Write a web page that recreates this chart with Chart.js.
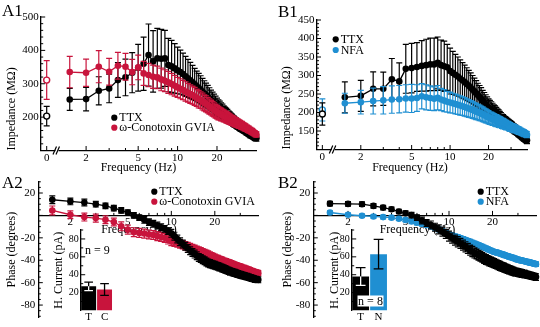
<!DOCTYPE html>
<html>
<head>
<meta charset="utf-8">
<script src="https://cdn.jsdelivr.net/npm/chart.js@4.4.1/dist/chart.umd.min.js"></script>
<style>
  html, body { margin: 0; padding: 0; background: #fff; }
  #fig { position: relative; width: 540px; height: 327px; overflow: hidden;
         font-family: "Liberation Serif", "Times New Roman", serif; }
  #fig canvas { position: absolute; }
  .tag { position: absolute; font-size: 17px; line-height: 1; color: #000; }
</style>
</head>
<body>
<div id="fig">
  <canvas id="cA1" width="270" height="176" style="left:0;top:0"></canvas>
  <canvas id="cB1" width="270" height="176" style="left:270px;top:0"></canvas>
  <canvas id="cA2" width="270" height="157" style="left:0;top:170px"></canvas>
  <canvas id="cB2" width="270" height="157" style="left:270px;top:170px"></canvas>
  <canvas id="cA2i" width="80" height="105" style="left:40px;top:222px"></canvas>
  <canvas id="cB2i" width="80" height="105" style="left:312px;top:222px"></canvas>
  <div class="tag" style="left:2px;top:2px">A1</div>
  <div class="tag" style="left:278px;top:3px">B1</div>
  <div class="tag" style="left:2px;top:174px">A2</div>
  <div class="tag" style="left:278px;top:174px">B2</div>
</div>
<script>
// ---------------- data ----------------
// stimulation frequencies (Hz)
const freq = [1.5,2,2.5,3,3.5,4,4.5,5,5.5,6,6.5,7,7.5,8,8.5,9,9.5,10,
  10.5,11,11.5,12,12.5,13,13.5,14,14.5,15,15.5,16,16.5,17,17.5,18,18.5,19,19.5,20,
  20.5,21,21.5,22,22.5,23,23.5,24,24.5,25,25.5,26,26.5,27,27.5,28,28.5,29,29.5,30,
  30.5,31,31.5,32,32.5,33,33.5,34,34.5,35,35.5,36,36.5,37,37.5,38,38.5,39,39.5,40];

// A1: impedance (MOhm), TTX vs omega-conotoxin GVIA
const impTTX_A = [253,254,279,286,311,319,333,348,360,386,367,376,375,376,356,352,346,340,
  335,329,322,316,310,304,298,292,287,282,276,271,266,261,256,251,246,241,236,231,
  227,224,220,217,213,210,207,204,201,198,195,192,189,187,184,182,179,177,174,172,
  170,168,166,164,162,160,158,156,154,152,150,148,147,145,144,142,141,139,138,137];
const impTTX_A_sem = [33,35,42,43,52,55,60,70,80,93,92,90,88,84,80,78,74,70,
  66,63,60,57,54,51,48,46,44,42,40,38,36,34,32,30,29,28,27,26,
  25,24,23,22,21,20,20,19,18,18,17,17,16,16,15,15,14,14,13,13,
  13,12,12,12,11,11,11,11,10,10,10,10,10,9,9,9,9,9,9,9];
const impCono = [335,333,351,336,354,351,335,349,331,326,321,319,313,309,304,299,294,289,
  285,281,277,273,269,266,262,258,254,251,247,243,240,236,232,229,225,222,218,215,
  212,210,208,206,204,202,200,198,196,194,192,190,189,187,185,184,182,181,179,178,
  176,175,173,172,170,169,167,166,164,163,161,160,158,157,155,154,152,151,149,148];
const impCono_sem = [47,41,48,40,40,40,38,37,36,35,35,34,34,33,33,32,31,30,
  30,29,29,28,28,27,27,26,26,25,25,24,24,23,23,22,22,21,21,20,
  20,19,19,18,18,17,17,17,16,16,15,15,15,14,14,14,13,13,13,12,
  12,12,11,11,11,11,10,10,10,10,9,9,9,9,9,8,8,8,8,8];
const dcTTX_A = 203, dcTTX_A_sem = 29;
const dcCono = 311, dcCono_sem = 58;

// B1: impedance (MOhm), TTX vs NFA
const impTTX_B = [241,245,264,264,290,284,318,320,323,326,328,330,330,334,328,325,322,312,
  307,302,297,292,287,282,277,272,267,262,257,252,247,242,237,232,227,222,217,213,
  210,207,204,201,198,195,192,189,186,183,180,178,176,174,172,170,168,166,165,163,
  161,159,157,155,153,151,149,147,145,143,141,139,137,135,133,131,130,128,127,125];
const impTTX_B_sem = [42,42,46,45,56,50,66,67,66,68,70,71,71,70,68,68,62,62,
  58,55,53,50,48,46,44,42,40,38,36,34,32,31,30,28,27,26,25,24,
  23,22,21,20,20,19,18,18,17,17,16,16,15,15,15,14,14,14,13,13,
  13,12,12,12,12,11,11,11,11,10,10,10,10,10,9,9,9,9,9,9];
const impNFA = [225,228,231,233,235,236,238,238,239,244,241,239,237,240,235,232,229,227,
  225,223,221,219,217,215,213,211,209,207,205,203,201,199,197,195,193,191,189,187,
  185,184,182,181,179,178,177,175,174,173,171,170,169,167,166,165,164,162,161,160,
  159,158,157,156,155,154,153,152,151,150,149,148,147,146,145,144,143,142,141,140];
const impNFA_sem = [27,32,35,37,37,37,37,38,36,34,34,33,32,33,30,30,28,28,
  27,27,26,26,25,25,24,24,23,23,22,22,21,21,20,20,19,19,18,18,
  17,17,17,16,16,16,15,15,15,14,14,14,13,13,13,12,12,12,12,11,
  11,11,11,11,10,10,10,10,10,10,9,9,9,9,9,9,8,8,8,8];
const dcTTX_B = 196, dcTTX_B_sem = 30;
const dcNFA = 207, dcNFA_sem = 30;

// A2: phase (degrees), TTX vs omega-conotoxin GVIA
const phTTX_A = [14,12.5,11.5,10,8.5,6.5,4.5,2.5,0,-2,-4,-6,-7.5,-9,-10.5,-12,-14,-16,
  -18.5,-21,-23.5,-25.5,-27.5,-29.5,-31.5,-33,-34.5,-36,-37.5,-38.5,-39.5,-40.5,-41.5,-42.5,-43,-43.5,-44,-44.5,
  -45,-45.5,-46,-46.5,-47,-47.5,-48,-48.5,-49,-49.5,-50,-50.3,-50.6,-51,-51.3,-51.6,-52,-52.3,-52.6,-53,
  -53.2,-53.5,-53.7,-54,-54.2,-54.5,-54.7,-55,-55.2,-55.5,-55.7,-56,-56.2,-56.5,-56.7,-57,-57.1,-57.2,-57.4,-57.5];
const phTTX_A_sem = [3.5,3,3,2.5,2.5,2.5,2.5,2.5,2.5,2.5,3,3,3,3,3,3,3,3.5,
  3.5,3.5,3.5,3.5,3.5,3.5,3.5,3.5,3.5,3.5,3.5,3.5,3.5,3.5,3.5,3.5,3.5,3.5,3.5,3.5,
  3.4,3.4,3.4,3.3,3.3,3.3,3.3,3.2,3.2,3.2,3.2,3.1,3.1,3.1,3.1,3,3,3,3,3,
  3,3,3,2.9,2.9,2.9,2.9,2.8,2.8,2.8,2.8,2.8,2.7,2.7,2.7,2.7,2.7,2.6,2.6,2.6];
const phCono = [4.4,0.6,-1.5,-2.4,-3.8,-5.9,-9.7,-12.7,-15,-15.6,-16.2,-17,-17.5,-18.5,-19.2,-20,-21.5,-23,
  -23.8,-24.6,-25.4,-26.2,-27,-27.8,-28.6,-29.4,-30.1,-30.8,-31.5,-32.2,-32.9,-33.6,-34.3,-35,-35.7,-36.4,-37.1,-37.8,
  -38.3,-38.8,-39.3,-39.8,-40.3,-40.8,-41.2,-41.6,-42,-42.4,-42.8,-43.2,-43.6,-44,-44.4,-44.8,-45.1,-45.4,-45.7,-46,
  -46.3,-46.6,-46.9,-47.2,-47.5,-47.8,-48.1,-48.4,-48.7,-49,-49.3,-49.6,-49.9,-50.2,-50.4,-50.6,-50.8,-51,-51.2,-51.5];
const phCono_sem = [4,3.5,3.5,3.5,3.5,3.5,4,4,4,4,4,4,4,4,4,4,4,4,
  3.8,3.8,3.8,3.7,3.7,3.7,3.6,3.6,3.6,3.5,3.5,3.5,3.4,3.4,3.4,3.3,3.3,3.3,3.2,3.2,
  3.2,3.1,3.1,3.1,3,3,3,3,2.9,2.9,2.9,2.9,2.8,2.8,2.8,2.8,2.7,2.7,2.7,2.7,
  2.6,2.6,2.6,2.6,2.5,2.5,2.5,2.5,2.5,2.4,2.4,2.4,2.4,2.4,2.3,2.3,2.3,2.3,2.3,2.3];

// B2: phase (degrees), TTX vs NFA
const phTTX_B = [10.5,10.3,10,8.5,7,5.5,3.5,2,0.3,-2,-4.5,-6.8,-8.5,-10.5,-12.5,-14.5,-16.5,-18.5,
  -20.2,-22,-23.5,-25,-26.5,-28,-29.5,-31,-32.2,-33.5,-34.5,-35.5,-36.5,-37.5,-38.5,-39.3,-40,-40.8,-41.4,-42,
  -42.6,-43.2,-43.8,-44.4,-45,-45.5,-46,-46.5,-47,-47.5,-48,-48.4,-48.8,-49.2,-49.6,-50,-50.3,-50.6,-50.8,-51,
  -51.2,-51.4,-51.6,-51.8,-52,-52.2,-52.4,-52.6,-52.8,-53,-53.2,-53.4,-53.6,-53.8,-54,-54.2,-54.4,-54.6,-54.8,-55];
const phTTX_B_sem = [2,2,2,2,2,2,2,2,2.5,2.5,3,3,3.5,3.5,4,4,4,4.5,
  4.5,4.5,4.5,4.5,4.5,4.5,4.5,4.5,4.5,4.5,4.4,4.4,4.4,4.3,4.3,4.3,4.2,4.2,4.2,4.1,
  4.1,4.1,4,4,4,3.9,3.9,3.9,3.8,3.8,3.8,3.7,3.7,3.7,3.6,3.6,3.6,3.5,3.5,3.5,
  3.5,3.4,3.4,3.4,3.3,3.3,3.3,3.2,3.2,3.2,3.1,3.1,3.1,3,3,3,3,2.9,2.9,2.9];
const phNFA = [2.6,0.6,-0.3,-0.9,-1.5,-2,-3,-4,-5.3,-6.5,-7.5,-8.5,-9.8,-11,-12.5,-14,-15.5,-17,
  -17.8,-18.6,-19.4,-20.2,-21,-21.8,-22.6,-23.4,-24.2,-25,-25.8,-26.5,-27.2,-27.9,-28.6,-29.3,-30,-30.7,-31.3,-32,
  -32.4,-32.8,-33.2,-33.6,-34,-34.4,-34.8,-35.2,-35.6,-36,-36.4,-36.8,-37.1,-37.4,-37.7,-38,-38.4,-38.8,-39.2,-39.5,
  -39.7,-39.9,-40.1,-40.3,-40.5,-40.7,-40.9,-41.1,-41.3,-41.5,-41.7,-41.9,-42.1,-42.3,-42.5,-42.7,-42.9,-43.1,-43.3,-43.5];
const phNFA_sem = [1.5,1.5,1.5,1.5,1.5,1.5,1.5,1.5,2,2,2,2,2,2,2,2,2,2,
  2,2,2,2,2,2,2,2,2,2,2,2,2,2,2,2,2,2,2,2,
  2,2,2,2,2,2,2,2,2,2,2,2,2,2,2,2,2,2,2,2,
  2,2,2,2,2,2,2,2,2,2,2,2,2,2,2,2,2,2,2,2];

// H-current insets (pA, mean and sem)
const hLabelsA = ['T', 'C'];
const hCurrentA = [27, 23.5];
const hCurrentA_sem = [4.8, 6.5];
const hLabelsB = ['T', 'N'];
const hCurrentB = [38, 63];
const hCurrentB_sem = [10, 16.5];
const nCellsA = 'n = 9';
const nCellsB = 'n = 8';

// tick values and labels
const freqTicksDC = [1, 2, 5, 10, 20];
const freqTickLabelsDC = ['0', '2', '5', '10', '20'];
const freqTicks = [2, 5, 10, 20];
const freqMinor = [3, 4, 6, 7, 8, 9, 30];
const impTicksA = [200, 300, 400, 500];
const impTicksB = [150, 200, 250, 300, 350, 400, 450];
const phaseTicks = [-80, -60, -40, -20, 20];
const currentTicks = [20, 40, 60, 80];

// the 0 Hz point sits left of the axis break, at log-axis position 1 (labelled "0")
const DC_POS = 1;

[impTTX_A, impTTX_A_sem, impCono, impCono_sem, impTTX_B, impTTX_B_sem, impNFA, impNFA_sem,
 phTTX_A, phTTX_A_sem, phCono, phCono_sem, phTTX_B, phTTX_B_sem, phNFA, phNFA_sem].forEach((a, i) => {
  if (a.length !== freq.length) throw new Error('series ' + i + ' has ' + a.length + ' values');
});

// ---------------- styling ----------------
const BLACK = '#000000', RED = '#c8143c', BLUE = '#1f8fd2';
const SERIF = '"Liberation Serif", "Times New Roman", serif';
Chart.defaults.font.family = SERIF;
Chart.defaults.font.size = 11;
Chart.defaults.color = '#000';

const range = (a, b, s) => { const r = []; for (let v = a; v <= b + 1e-9; v += s) r.push(+v.toFixed(3)); return r; };
const pts = (xs, ys) => xs.map((x, i) => ({x, y: ys[i]}));

function series(label, ys, sem, color, order) {
  return {label, data: pts(freq, ys), err: sem, borderColor: color, backgroundColor: color,
    pointBackgroundColor: color, pointBorderColor: color, pointBorderWidth: 0, pointRadius: 3.3,
    borderWidth: 1.3, tension: 0, clip: false, order};
}
function dcPoint(y, sem, color, order) {
  return {data: [{x: DC_POS, y}], err: [sem], showLine: false, borderColor: color,
    backgroundColor: '#fff', pointBackgroundColor: '#fff', pointBorderColor: color,
    pointBorderWidth: 1.4, pointRadius: 3, clip: false, order};
}

// vertical sem bars drawn under each series' markers
const errorBars = {
  id: 'errorBars',
  beforeDatasetDraw(chart, args) {
    const ds = chart.data.datasets[args.index];
    if (!ds.err || args.meta.type !== 'line') return;
    const ys = chart.scales.y, ctx = chart.ctx;
    ctx.save();
    ctx.strokeStyle = ds.borderColor; ctx.lineWidth = 1.2;
    ctx.beginPath();
    args.meta.data.forEach((el, i) => {
      const v = ds.data[i].y, e = ds.err[i];
      const t = ys.getPixelForValue(v + e), b = ys.getPixelForValue(v - e);
      ctx.moveTo(el.x, t); ctx.lineTo(el.x, b);
      ctx.moveTo(el.x - 3, t); ctx.lineTo(el.x + 3, t);
      ctx.moveTo(el.x - 3, b); ctx.lineTo(el.x + 3, b);
    });
    ctx.stroke();
    ctx.restore();
  }
};

// sem whiskers on the inset bars (white where they run inside a black bar)
const barErrors = {
  id: 'barErrors',
  afterDatasetsDraw(chart) {
    const ds = chart.data.datasets[0], meta = chart.getDatasetMeta(0);
    const ys = chart.scales.y, ctx = chart.ctx;
    ctx.save(); ctx.lineWidth = 1.3;
    meta.data.forEach((bar, i) => {
      const v = ds.data[i], e = ds.err[i];
      const t = ys.getPixelForValue(v + e), b = ys.getPixelForValue(v - e);
      const x = bar.x, h = bar.width * 0.29, dark = ds.backgroundColor[i] === BLACK;
      ctx.strokeStyle = '#000';
      ctx.beginPath();
      ctx.moveTo(x, t); ctx.lineTo(x, dark ? bar.y : b);
      ctx.moveTo(x - h, t); ctx.lineTo(x + h, t);
      if (!dark) { ctx.moveTo(x - h, b); ctx.lineTo(x + h, b); }
      ctx.stroke();
      if (dark) {
        ctx.strokeStyle = '#fff';
        ctx.beginPath();
        ctx.moveTo(x, bar.y); ctx.lineTo(x, b);
        ctx.moveTo(x - h, b); ctx.lineTo(x + h, b);
        ctx.stroke();
      }
    });
    ctx.restore();
  }
};

// inward tick marks, axis break, axis title, legend and notes
const decorCfg = {};
const decor = {
  id: 'decor',
  beforeDatasetsDraw(chart) {
    const cfg = decorCfg[chart.canvas.id]; if (!cfg) return;
    const ctx = chart.ctx, ca = chart.chartArea, xs = chart.scales.x, ys = chart.scales.y;
    ctx.save();
    ctx.fillStyle = '#000'; ctx.strokeStyle = '#000';
    if (cfg.xTitle) {
      ctx.font = '12px ' + SERIF; ctx.textAlign = 'center'; ctx.textBaseline = 'middle';
      ctx.fillText(cfg.xTitle.text, cfg.xTitle.x, cfg.xTitle.y);
    }
    const xBase = cfg.xAt === undefined ? ca.bottom : ys.getPixelForValue(cfg.xAt);
    ctx.lineWidth = 1;
    ctx.beginPath();
    (cfg.xMajor || []).forEach(v => { const p = xs.getPixelForValue(v); ctx.moveTo(p, xBase); ctx.lineTo(p, xBase - 4.5); });
    (cfg.xMinor || []).forEach(v => { const p = xs.getPixelForValue(v); ctx.moveTo(p, xBase); ctx.lineTo(p, xBase - 2.5); });
    (cfg.yMajor || []).forEach(v => { const p = ys.getPixelForValue(v); ctx.moveTo(ca.left, p); ctx.lineTo(ca.left + 4.5, p); });
    (cfg.yMinor || []).forEach(v => { const p = ys.getPixelForValue(v); ctx.moveTo(ca.left, p); ctx.lineTo(ca.left + 2.5, p); });
    ctx.stroke();
    if (cfg.breakAt) {
      const p = xs.getPixelForValue(cfg.breakAt), y = ca.bottom;
      ctx.fillStyle = '#fff'; ctx.fillRect(p - 2.5, y - 1.5, 3, 3);
      ctx.lineWidth = 1.2; ctx.beginPath();
      ctx.moveTo(p - 5, y + 4); ctx.lineTo(p - 1.5, y - 4);
      ctx.moveTo(p - 2, y + 4); ctx.lineTo(p + 1.5, y - 4);
      ctx.stroke();
    }
    ctx.restore();
  },
  afterDraw(chart) {
    const cfg = decorCfg[chart.canvas.id]; if (!cfg) return;
    const ctx = chart.ctx;
    ctx.save();
    if (cfg.legend) {
      const items = chart.data.datasets.filter(d => d.label);
      ctx.font = '12px ' + SERIF; ctx.textAlign = 'left'; ctx.textBaseline = 'middle';
      items.forEach((d, i) => {
        const y = cfg.legend.y + i * cfg.legend.dy;
        ctx.fillStyle = d.borderColor;
        ctx.beginPath(); ctx.arc(cfg.legend.x, y, 3.1, 0, Math.PI * 2); ctx.fill();
        ctx.fillStyle = '#000';
        ctx.fillText(d.label, cfg.legend.x + 5, y + 0.5);
      });
    }
    (cfg.notes || []).forEach(n => {
      ctx.font = '12px ' + SERIF; ctx.textBaseline = 'middle';
      if (n.box) {
        ctx.fillStyle = '#fff';
        ctx.fillRect(n.x - n.box[0] / 2, n.y - n.box[1] / 2, n.box[0], n.box[1]);
        ctx.textAlign = 'center';
      } else {
        ctx.textAlign = 'left';
      }
      ctx.fillStyle = '#000';
      ctx.fillText(n.text, n.x, n.y + 0.5);
    });
    ctx.restore();
  }
};

const noHover = {legend: {display: false}, tooltip: {enabled: false}};
const axisLine = {display: true, color: '#000', width: 1.3};
const noGrid = {display: false, drawTicks: false};

function impedancePanel(id, geo, yMin, yMax, yTicks, datasets, titleAlign) {
  new Chart(document.getElementById(id), {
    type: 'line',
    data: {datasets},
    options: {
      responsive: false, animation: false, devicePixelRatio: 1, events: [],
      layout: {padding: {left: 0, right: geo.padR, top: geo.padT, bottom: 0}},
      plugins: noHover,
      scales: {
        x: {
          type: 'logarithmic', min: 0.9, max: 40, position: 'bottom',
          grid: noGrid, border: axisLine,
          ticks: {padding: 1, maxRotation: 0, autoSkip: false, callback: (v, i) => freqTickLabelsDC[i]},
          afterBuildTicks: s => { s.ticks = freqTicksDC.map(v => ({value: v})); },
          afterFit: s => { s.height = geo.xH; }
        },
        y: {
          type: 'linear', min: yMin, max: yMax,
          grid: noGrid, border: axisLine,
          ticks: {padding: 2, callback: v => String(v)},
          afterBuildTicks: s => { s.ticks = yTicks.map(v => ({value: v})); },
          afterFit: s => { s.width = geo.yW; },
          title: {display: true, text: 'Impedance (MΩ)', align: titleAlign, font: {size: 12},
                  padding: {top: geo.titlePad, bottom: 0}}
        }
      }
    },
    plugins: [errorBars, decor]
  });
}

function phasePanel(id, geo, xMin, datasets) {
  new Chart(document.getElementById(id), {
    type: 'line',
    data: {datasets},
    options: {
      responsive: false, animation: false, devicePixelRatio: 1, events: [],
      layout: {padding: {left: 0, right: geo.padR, top: geo.padT, bottom: geo.padB}},
      plugins: noHover,
      scales: {
        x: {
          type: 'logarithmic', min: xMin, max: 40, position: {y: 0},
          grid: noGrid, border: axisLine,
          ticks: {padding: 0, maxRotation: 0, autoSkip: false, callback: v => String(v)},
          afterBuildTicks: s => { s.ticks = freqTicks.map(v => ({value: v})); }
        },
        y: {
          type: 'linear', min: -91, max: 30,
          grid: noGrid, border: axisLine,
          ticks: {padding: 3, callback: v => String(v)},
          afterBuildTicks: s => { s.ticks = phaseTicks.map(v => ({value: v})); },
          afterFit: s => { s.width = geo.yW; },
          title: {display: true, text: 'Phase (degrees)', font: {size: 12},
                  padding: {top: geo.titlePad, bottom: 0}}
        }
      }
    },
    plugins: [errorBars, decor]
  });
}

function insetPanel(id, geo, labels, values, sem, colors) {
  new Chart(document.getElementById(id), {
    type: 'bar',
    data: {labels, datasets: [{data: values, err: sem, backgroundColor: colors, borderWidth: 0,
                               barPercentage: 0.94, categoryPercentage: 1}]},
    options: {
      responsive: false, animation: false, devicePixelRatio: 1, events: [],
      layout: {padding: {left: 0, right: geo.padR, top: geo.padT, bottom: 0}},
      plugins: noHover,
      scales: {
        x: {grid: noGrid, border: {display: false}, ticks: {padding: 0, font: {size: 11}},
            afterFit: s => { s.height = geo.xH; }},
        y: {
          min: 0, max: 90, grid: noGrid, border: axisLine,
          ticks: {padding: 2, font: {size: 10}, callback: v => String(v)},
          afterBuildTicks: s => { s.ticks = currentTicks.map(v => ({value: v})); },
          afterFit: s => { s.width = geo.yW; },
          title: {display: true, text: 'H. Current (pA)', font: {size: 12},
                  padding: {top: geo.titlePad, bottom: 0}}
        }
      }
    },
    plugins: [barErrors, decor]
  });
}

// ---------------- layout of the four panels ----------------
const GEO = {
  A1: {padR: 13.6, padT: 17, yW: 40.7, xH: 25.5, titlePad: 4.5},
  B1: {padR: 13, padT: 20, yW: 46.5, xH: 26.5, titlePad: 10.1},
  A2: {padR: 11.7, padT: 11.8, padB: 8.5, yW: 38.3, titlePad: 4.5},
  B2: {padR: 3.5, padT: 11.8, padB: 8.5, yW: 43.3, titlePad: 11.1},
  A2i: {padR: 7.5, padT: 6.4, yW: 40.7, xH: 16.5, titlePad: 12.1},
  B2i: {padR: 4.5, padT: 6.4, yW: 39.7, xH: 16.5, titlePad: 15.8}
};

decorCfg.cA1 = {
  xTitle: {text: 'Frequency (Hz)', x: 138.5, y: 168},
  xMajor: freqTicksDC, xMinor: freqMinor, breakAt: 1.22,
  yMajor: impTicksA, yMinor: range(120, 480, 20).filter(v => v % 100 !== 0),
  legend: {x: 114.3, y: 117.7, dy: 10}
};
decorCfg.cB1 = {
  xTitle: {text: 'Frequency (Hz)', x: 140, y: 168},
  xMajor: freqTicksDC, xMinor: freqMinor, breakAt: 1.24,
  yMajor: impTicksB, yMinor: range(110, 440, 10).filter(v => v % 50 !== 0),
  legend: {x: 65.7, y: 39.3, dy: 10.7}
};
decorCfg.cA2 = {
  xTitle: {text: 'Frequency (Hz)', x: 139, y: 60}, xAt: 0,
  xMajor: freqTicks, xMinor: freqMinor,
  yMajor: [-80, -60, -40, -20, 0, 20], yMinor: range(-90, 30, 5).filter(v => v % 20 !== 0),
  legend: {x: 154.3, y: 21.7, dy: 10}
};
decorCfg.cB2 = {
  xTitle: {text: 'Frequency (Hz)', x: 147.5, y: 60}, xAt: 0,
  xMajor: freqTicks, xMinor: freqMinor,
  yMajor: [-80, -60, -40, -20, 0, 20], yMinor: range(-90, 30, 5).filter(v => v % 20 !== 0),
  legend: {x: 210.7, y: 21.7, dy: 10}
};
decorCfg.cA2i = {
  yMajor: currentTicks, yMinor: [10, 30, 50, 70, 90],
  notes: [{text: nCellsA, x: 45, y: 28}]
};
decorCfg.cB2i = {
  yMajor: currentTicks, yMinor: [10, 30, 50, 70, 90],
  notes: [{text: nCellsB, x: 58.5, y: 79, box: [26, 11]}]
};

impedancePanel('cA1', GEO.A1, 100, 500, impTicksA, [
  series('TTX', impTTX_A, impTTX_A_sem, BLACK, 2),
  series('ω-Conotoxin GVIA', impCono, impCono_sem, RED, 1),
  dcPoint(dcTTX_A, dcTTX_A_sem, BLACK, 0),
  dcPoint(dcCono, dcCono_sem, RED, 0)
], 'start');

impedancePanel('cB1', GEO.B1, 100, 450, impTicksB, [
  series('TTX', impTTX_B, impTTX_B_sem, BLACK, 2),
  series('NFA', impNFA, impNFA_sem, BLUE, 1),
  dcPoint(dcTTX_B, dcTTX_B_sem, BLACK, 0),
  dcPoint(dcNFA, dcNFA_sem, BLUE, 0)
], 'start');

phasePanel('cA2', GEO.A2, 1.2, [
  series('TTX', phTTX_A, phTTX_A_sem, BLACK, 1),
  series('ω-Conotoxin GVIA', phCono, phCono_sem, RED, 2)
]);

phasePanel('cB2', GEO.B2, 1.15, [
  series('TTX', phTTX_B, phTTX_B_sem, BLACK, 1),
  series('NFA', phNFA, phNFA_sem, BLUE, 2)
]);

insetPanel('cA2i', GEO.A2i, hLabelsA, hCurrentA, hCurrentA_sem, [BLACK, RED]);
insetPanel('cB2i', GEO.B2i, hLabelsB, hCurrentB, hCurrentB_sem, [BLACK, BLUE]);
</script>
</body>
</html>
